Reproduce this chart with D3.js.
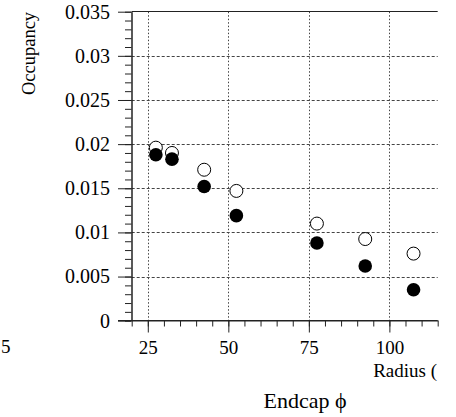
<!DOCTYPE html>
<html>
<head>
<meta charset="utf-8">
<script src="https://cdn.jsdelivr.net/npm/d3@7"></script>
<style>
  body { margin: 0; background: #fff; }
  svg text { font-family: "Liberation Serif", "DejaVu Serif", serif; fill: #000; }
</style>
</head>
<body>
<div class="canvas"></div>
<script>
// ring positions (radius) and occupancies
var radius = [27.5, 32.5, 42.5, 52.5, 77.5, 92.5, 107.5];
var openOcc = [0.0196, 0.0190, 0.0171, 0.0147, 0.0110, 0.00925, 0.0076];
var filledOcc = [0.0188, 0.0183, 0.0152, 0.0119, 0.0088, 0.0062, 0.0035];
var yTicks = [0, 0.005, 0.01, 0.015, 0.02, 0.025, 0.03, 0.035];
var yTickLabels = ["0", "0.005", "0.01", "0.015", "0.02", "0.025", "0.03", "0.035"];
var xTicks = [25, 50, 75, 100];

var W = 456, H = 417;
var svg = d3.select(".canvas").append("svg").attr("width", W).attr("height", H);

var x = d3.scaleLinear().domain([20, 115]).range([131.7, 437.7]);
var y = d3.scaleLinear().domain([0, 0.035]).range([320.7, 11.7]);

var ink = "#222";

// grid
svg.append("g").selectAll("line").data(yTicks.slice(1, 7)).enter().append("line")
  .attr("x1", x.range()[0]).attr("x2", x.range()[1])
  .attr("y1", function(d) { return Math.round(y(d)) + 0.5; })
  .attr("y2", function(d) { return Math.round(y(d)) + 0.5; })
  .attr("stroke", "#444").attr("stroke-width", 1).attr("stroke-dasharray", "3,2");
svg.append("g").selectAll("line").data(xTicks).enter().append("line")
  .attr("x1", function(d) { return Math.round(x(d)) + 0.5; })
  .attr("x2", function(d) { return Math.round(x(d)) + 0.5; })
  .attr("y1", y.range()[1]).attr("y2", y.range()[0])
  .attr("stroke", "#444").attr("stroke-width", 1).attr("stroke-dasharray", "1.5,2");

// top frame line
svg.append("line")
  .attr("x1", x.range()[0]).attr("x2", x.range()[1])
  .attr("y1", 11.5).attr("y2", 11.5)
  .attr("stroke", ink);

// y axis: minor then major
var yMinor = d3.range(0, 0.0351, 0.001);
svg.append("g").attr("transform", "translate(131.5,0)")
  .call(d3.axisLeft(y).tickValues(yMinor).tickSize(6.5).tickSizeOuter(0).tickFormat(""))
  .call(function(g) { g.selectAll("line,path").attr("stroke", ink); });
var yAxis = svg.append("g").attr("transform", "translate(131.5,0)")
  .call(d3.axisLeft(y).tickValues(yTicks).tickSize(13.5).tickSizeOuter(0)
    .tickFormat(function(d, i) { return yTickLabels[i]; }).tickPadding(8));
yAxis.selectAll("line,path").attr("stroke", ink);
yAxis.selectAll("text").style("font-size", "20px").style("font-family", "Liberation Serif").attr("fill", "#000");

// x axis: minor then major
var xMinor = d3.range(20, 115.1, 5);
svg.append("g").attr("transform", "translate(0,320.5)")
  .call(d3.axisBottom(x).tickValues(xMinor).tickSize(6).tickSizeOuter(0).tickFormat(""))
  .call(function(g) { g.selectAll("line,path").attr("stroke", ink); });
var xAxis = svg.append("g").attr("transform", "translate(0,320.5)")
  .call(d3.axisBottom(x).tickValues(xTicks).tickSize(12).tickSizeOuter(0).tickPadding(8));
xAxis.selectAll("line,path").attr("stroke", ink);
xAxis.select(".domain").attr("d", "M118,0H" + x.range()[1]);
xAxis.selectAll("text").style("font-size", "19px").style("font-family", "Liberation Serif").attr("fill", "#000");

// points
var openData = radius.map(function(r, i) { return {r: r, v: openOcc[i]}; });
var filledData = radius.map(function(r, i) { return {r: r, v: filledOcc[i]}; });

svg.append("g").selectAll("circle").data(openData).enter().append("circle")
  .attr("cx", function(d) { return x(d.r); })
  .attr("cy", function(d) { return y(d.v); })
  .attr("r", 6.5).attr("fill", "#fff").attr("stroke", "#000").attr("stroke-width", 1);
svg.append("g").selectAll("circle").data(filledData).enter().append("circle")
  .attr("cx", function(d) { return x(d.r); })
  .attr("cy", function(d) { return y(d.v); })
  .attr("r", 6.8).attr("fill", "#000");

// titles
svg.append("text").attr("transform", "translate(35,53.5) rotate(-90)")
  .attr("text-anchor", "middle").style("font-size", "18.5px").text("Occupancy");
svg.append("text").attr("x", 437).attr("y", 377).attr("text-anchor", "end")
  .style("font-size", "19px").text("Radius (");
svg.append("text").attr("x", 305).attr("y", 407.5).attr("text-anchor", "middle")
  .style("font-size", "22px").text("Endcap \u03d5");
svg.append("text").attr("x", 1).attr("y", 353).attr("text-anchor", "start")
  .style("font-size", "19px").text("5");
</script>
</body>
</html>
